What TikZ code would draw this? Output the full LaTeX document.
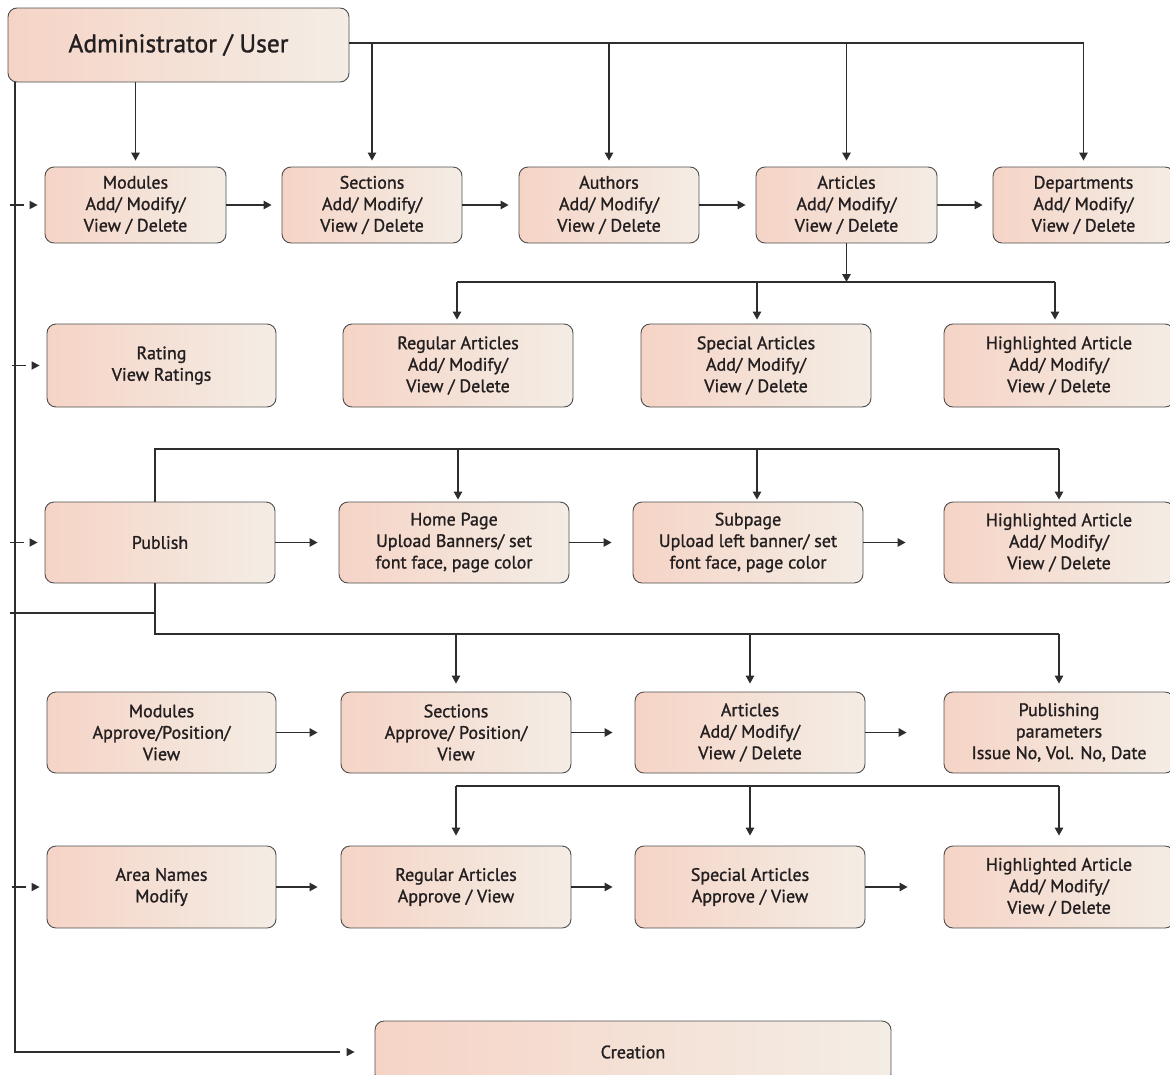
\documentclass[tikz,border=0pt]{standalone}
\usepackage{fontspec}
\setmainfont{PT Sans}[FakeBold=1.2]
\usetikzlibrary{arrows.meta}
\definecolor{boxL}{RGB}{245,212,198}
\definecolor{boxR}{RGB}{244,237,229}
\definecolor{ink}{RGB}{35,31,32}
\definecolor{edgec}{RGB}{78,78,78}
\definecolor{wirec}{RGB}{45,45,45}
\tikzset{
  box/.style={draw=edgec, line width=0.9pt, rounded corners=9pt, left color=boxL, right color=boxR,
    text=ink, align=center, inner sep=0pt, font=\fontsize{18}{21.5}\selectfont},
  wire/.style={draw=wirec, line width=1.3pt},
  arr/.style={wire, -{Triangle[length=8pt,width=8.5pt]}},
}
\newcommand\rtip[1]{\fill[wirec] (#1) -- ++(-8pt,4.25pt) -- ++(0pt,-8.5pt) -- cycle;}
\begin{document}
\begin{tikzpicture}[x=1pt,y=-1pt]
\useasboundingbox (0,0) rectangle (1170,1074);
% top
\node[box, minimum width=341pt, minimum height=74pt, font=\fontsize{25.5}{30}\selectfont] (admin) at (178.5,45) {Administrator / User};
% row 1
\node[box, minimum width=181pt, minimum height=76pt] (mod1) at (135.5,205) {Modules\\Add/ Modify/\\View / Delete};
\node[box, minimum width=180pt, minimum height=76pt] (sec1) at (372,205) {Sections\\Add/ Modify/\\View / Delete};
\node[box, minimum width=180pt, minimum height=76pt] (auth1) at (609,205) {Authors\\Add/ Modify/\\View / Delete};
\node[box, minimum width=181pt, minimum height=76pt] (art1) at (846.5,205) {Articles\\Add/ Modify/\\View / Delete};
\node[box, minimum width=181pt, minimum height=76pt] (dep1) at (1083.5,205) {Departments\\Add/ Modify/\\View / Delete};
% row 2
\node[box, minimum width=229pt, minimum height=83pt] (rat2) at (161.5,365.5) {Rating\\View Ratings};
\node[box, minimum width=230pt, minimum height=83pt] (reg2) at (458,365.5) {Regular Articles\\Add/ Modify/\\View / Delete};
\node[box, minimum width=230pt, minimum height=83pt] (spe2) at (756,365.5) {Special Articles\\Add/ Modify/\\View / Delete};
\node[box, minimum width=230pt, minimum height=83pt] (hl2) at (1059,365.5) {Highlighted Article\\Add/ Modify/\\View / Delete};
% row 3
\node[box, minimum width=230pt, minimum height=81pt] (pub3) at (160,542.5) {Publish};
\node[box, minimum width=230pt, minimum height=81pt] (home3) at (454,542.5) {Home Page\\Upload Banners/ set\\font face, page color};
\node[box, minimum width=230pt, minimum height=81pt] (sub3) at (748,542.5) {Subpage\\Upload left banner/ set\\font face, page color};
\node[box, minimum width=230pt, minimum height=81pt] (hl3) at (1059,542.5) {Highlighted Article\\Add/ Modify/\\View / Delete};
% row 4
\node[box, minimum width=229pt, minimum height=81pt] (mod4) at (161.5,732.5) {Modules\\Approve/Position/\\View};
\node[box, minimum width=230pt, minimum height=81pt] (sec4) at (456,732.5) {Sections\\Approve/ Position/\\View};
\node[box, minimum width=230pt, minimum height=81pt] (art4) at (750,732.5) {Articles\\Add/ Modify/\\View / Delete};
\node[box, minimum width=230pt, minimum height=81pt] (par4) at (1059,732.5) {Publishing\\parameters\\Issue No, Vol. No, Date};
% row 5
\node[box, minimum width=229pt, minimum height=82pt] (area5) at (161.5,887) {Area Names\\Modify};
\node[box, minimum width=230pt, minimum height=82pt] (reg5) at (456,887) {Regular Articles\\Approve / View};
\node[box, minimum width=230pt, minimum height=82pt] (spe5) at (750,887) {Special Articles\\Approve / View};
\node[box, minimum width=230pt, minimum height=82pt] (hl5) at (1059,887) {Highlighted Article\\Add/ Modify/\\View / Delete};
% creation
\node[box, minimum width=516pt, minimum height=62pt] (cre) at (633,1052) {Creation};

% bar coordinates
\coordinate (adminbar) at (0,43);
\coordinate (artbar) at (0,282);
\coordinate (topbar) at (0,449);
\coordinate (pjun) at (10,613);
\coordinate (botbar) at (0,634);
\coordinate (r5bar) at (0,786);
\coordinate (bt) at (15,82);

% admin connections
\draw[wire] (admin.east |- adminbar) -- (dep1.north |- adminbar);
\foreach \n in {sec1,auth1,art1,dep1}
  \draw[arr, shorten >=6pt] (\n.north |- adminbar) -- (\n.north);
\draw[arr, shorten >=6pt] (mod1.north |- admin.south) -- (mod1.north);

% left bus
\draw[wire] (bt) -- (bt |- cre.west) -- ([xshift=-35pt]cre.west);
\rtip{[xshift=-20pt]cre.west}
\foreach \n in {mod1,rat2,pub3,area5}{
  \draw[wire] ([xshift=-35pt]\n.west) -- ([xshift=-21pt]\n.west);
  \rtip{[xshift=-7pt]\n.west}
}
\draw[wire] (pjun) -- ([xshift=-5pt]pub3.south |- pjun);

% row 1 horizontal
\draw[arr, shorten >=10pt] (mod1) -- (sec1);
\draw[arr, shorten >=10pt] (sec1) -- (auth1);
\draw[arr, shorten >=10pt] (auth1) -- (art1);
\draw[arr, shorten >=10pt] (art1) -- (dep1);

% articles branch
\draw[arr] (art1.south) -- (art1.south |- artbar);
\draw[wire] ([xshift=-1pt]reg2.north |- artbar) -- ([xshift=-4pt]hl2.north |- artbar);
\draw[arr, shorten >=4pt] ([xshift=-1pt]reg2.north |- artbar) -- ([xshift=-1pt]reg2.north);
\draw[arr, shorten >=4pt] ([xshift=1pt]spe2.north |- artbar) -- ([xshift=1pt]spe2.north);
\draw[arr, shorten >=4pt] ([xshift=-4pt]hl2.north |- artbar) -- ([xshift=-4pt]hl2.north);

% publish top bar
\draw[wire] ([xshift=-5pt]pub3.north) |- (hl3.north |- topbar);
\draw[arr, shorten >=2pt] ([xshift=4pt]home3.north |- topbar) -- ([xshift=4pt]home3.north);
\draw[arr, shorten >=2pt] ([xshift=9pt]sub3.north |- topbar) -- ([xshift=9pt]sub3.north);
\draw[arr, shorten >=2pt] (hl3.north |- topbar) -- (hl3.north);

% row 3 horizontal
\draw[arr, shorten >=21pt] (pub3) -- (home3);
\draw[arr, shorten >=21pt] (home3) -- (sub3);
\draw[arr, shorten >=38pt] (sub3) -- (hl3);

% publish bottom bar
\draw[wire] ([xshift=-5pt]pub3.south) |- (par4.north |- botbar);
\foreach \n in {sec4,art4,par4}
  \draw[arr, shorten >=8pt] (\n.north |- botbar) -- (\n.north);

% row 4 horizontal
\draw[arr, shorten >=23pt] (mod4) -- (sec4);
\draw[arr, shorten >=22pt] (sec4) -- (art4);
\draw[arr, shorten >=37pt] (art4) -- (par4);

% row 5 bar
\draw[wire] (reg5.north |- r5bar) -- (hl5.north |- r5bar);
\foreach \n in {reg5,spe5,hl5}
  \draw[arr, shorten >=10pt] (\n.north |- r5bar) -- (\n.north);

% row 5 horizontal
\draw[arr, shorten >=23pt] (area5) -- (reg5);
\draw[arr, shorten >=22pt] (reg5) -- (spe5);
\draw[arr, shorten >=36pt] (spe5) -- (hl5);
\end{tikzpicture}
\end{document}
